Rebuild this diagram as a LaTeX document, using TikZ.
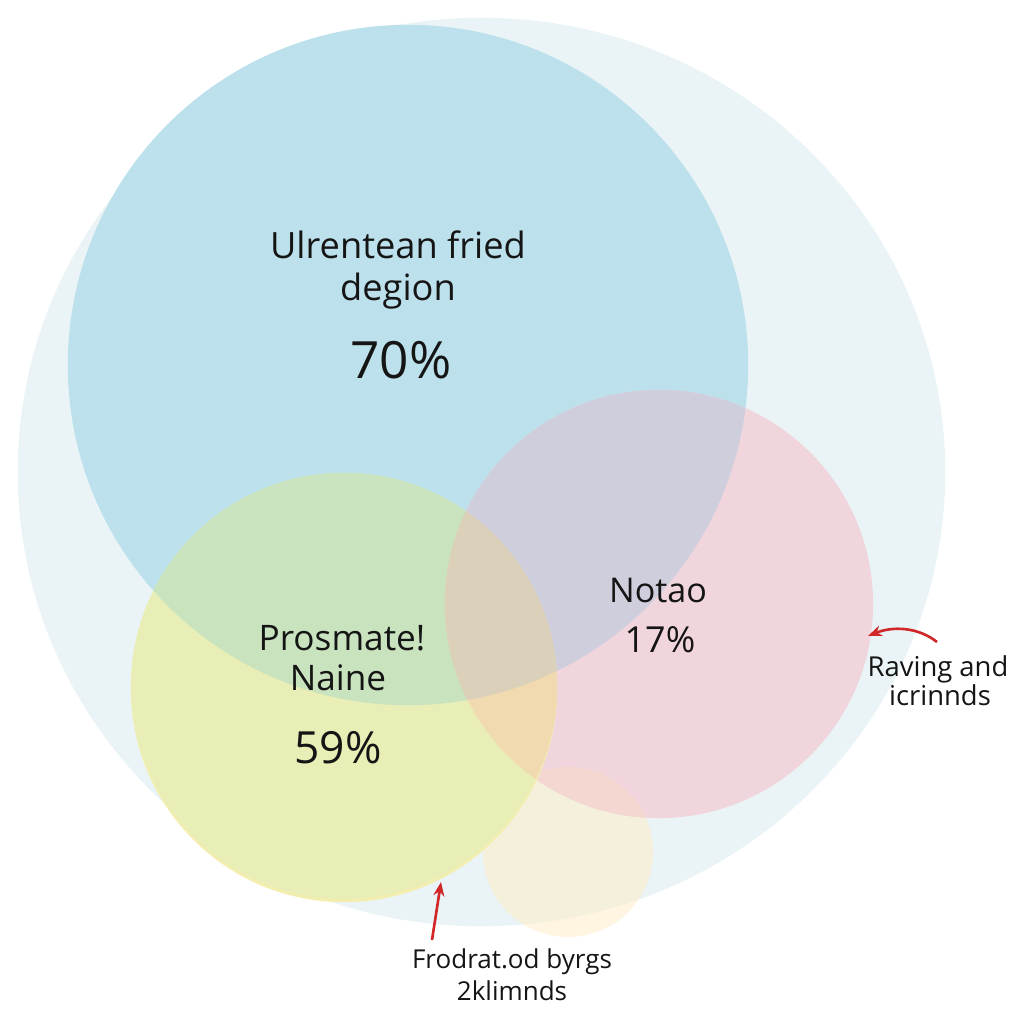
\documentclass[tikz,border=0pt]{standalone}
\usepackage{fontspec}
\setmainfont{Open Sans}
\usetikzlibrary{arrows.meta}
\definecolor{outerc}{HTML}{EAF4F6}
\definecolor{bluec}{HTML}{BDE1EC}
\definecolor{yellowc}{HTML}{E8EEB6}
\definecolor{yrimc}{HTML}{F4EEAE}
\definecolor{pinkc}{HTML}{F0D6DC}
\definecolor{peachc}{HTML}{FFEDC7}
\definecolor{pkpeachc}{HTML}{F3D7D0}
\definecolor{greenc}{HTML}{C9E3BE}
\definecolor{lavc}{HTML}{CFCEDD}
\definecolor{orangec}{HTML}{F1D9B0}
\definecolor{tanc}{HTML}{DBD0BA}
\definecolor{arrowred}{HTML}{D02828}
\definecolor{txt}{HTML}{151515}
\begin{document}
\begin{tikzpicture}[x=0.01cm,y=-0.01cm,
  lbl/.style={anchor=base,inner sep=0pt,text=txt},
  ptr/.style={draw=arrowred,line width=0.75pt,-{Stealth[length=1.4mm,width=1.1mm]}}]
\useasboundingbox (0,0) rectangle (1024,1024);
\fill[white] (0,0) rectangle (1024,1024);
% centres
\coordinate (O) at (481.5,472);
\coordinate (B) at (408,365);
\coordinate (Y) at (344,686);
\coordinate (Yr) at (344,689);
\coordinate (P) at (659,604);
\coordinate (S) at (568,852);
% circles
\fill[outerc] (O) ellipse[x radius=4.635cm,y radius=4.54cm];
\fill[bluec] (B) circle[radius=3.40cm];
\fill[peachc,opacity=0.55] (S) circle[radius=0.85cm];
\fill[pinkc] (P) circle[radius=2.14cm];
\begin{scope}
  \clip (P) circle[radius=2.14cm];
  \fill[pkpeachc] (S) circle[radius=0.85cm];
\end{scope}
\fill[yrimc] (Yr) circle[radius=2.13cm];
\fill[yellowc] (Y) circle[radius=2.13cm];
% overlaps
\begin{scope}
  \clip (B) circle[radius=3.40cm];
  \fill[greenc] (Y) circle[radius=2.13cm];
  \fill[lavc] (P) circle[radius=2.14cm];
\end{scope}
\begin{scope}
  \clip (Y) circle[radius=2.13cm];
  \fill[orangec] (P) circle[radius=2.14cm];
  \clip (B) circle[radius=3.40cm];
  \fill[tanc] (P) circle[radius=2.14cm];
\end{scope}
% labels
\node[lbl,font=\fontsize{10.3}{12}\selectfont] (t1) at (398,258) {Ulrentean fried};
\node[lbl,font=\fontsize{10.3}{12}\selectfont] (t2) at (398,300) {degion};
\node[lbl,font=\fontsize{14.6}{17}\selectfont] (t3) at (401,378) {70\%};
\node[lbl,font=\fontsize{10}{12}\selectfont] (p1) at (342,650) {Prosmate!};
\node[lbl,font=\fontsize{10}{12}\selectfont] (p2) at (338,690) {Naine};
\node[lbl,font=\fontsize{12.6}{15}\selectfont] (p3) at (338,763) {59\%};
\node[lbl,font=\fontsize{9.7}{12}\selectfont] (n1) at (658,602) {Notao};
\node[lbl,font=\fontsize{10.2}{12}\selectfont] (n2) at (660,652) {17\%};
\node[lbl,font=\fontsize{7.8}{9}\selectfont] (r1) at (938,676) {Raving and};
\node[lbl,font=\fontsize{7.8}{9}\selectfont] (r2) at (940,705) {icrinnds};
\node[lbl,font=\fontsize{7.4}{9}\selectfont] (f1) at (512,968) {Frodrat.od byrgs};
\node[lbl,font=\fontsize{7.4}{9}\selectfont] (f2) at (512,1000) {2klimnds};
% pointers
\coordinate (rtail) at (937,642);
\coordinate (rtip) at (868,636);
\coordinate (btail) at (432,940);
\coordinate (btip) at (441,882);
\draw[ptr] (rtail) .. controls (918,627) and (893,626) .. (rtip);
\draw[ptr] (btail) -- (btip);
\end{tikzpicture}
\end{document}
